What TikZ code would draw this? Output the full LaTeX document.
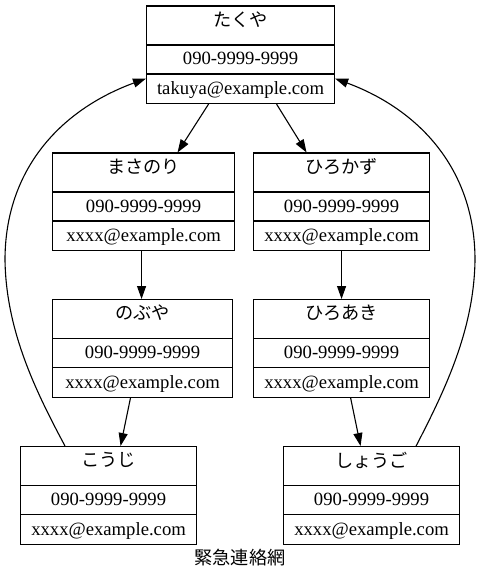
\documentclass[tikz,border=0pt]{standalone}
\usepackage{fontspec}
\setmainfont{Liberation Serif}
\newfontfamily\jpfont{Noto Sans CJK JP}
\usetikzlibrary{arrows.meta,calc}
\tikzset{
  recbox/.style={draw, line width=1.1pt, inner sep=0pt, minimum height=97.5pt},
  divline/.style={line width=1.1pt},
  titletext/.style={font=\jpfont\fontsize{18.2}{20}\selectfont, inner sep=0pt, anchor=center},
  infotext/.style={font=\fontsize{18.67}{22}\selectfont, inner sep=0pt, anchor=base},
  arr/.style={line width=1.1pt, -{Triangle[length=13pt,width=9pt]}},
  captext/.style={font=\jpfont\fontsize{18.2}{20}\selectfont, inner sep=0pt},
}
\newcommand\mkrecord[7]{% name, left, top, right, title, phone, mail
  \node[recbox, minimum width={#4-#2}, anchor=north west] (#1) at (#2,#3) {};
  \draw[divline] ([yshift=-39.5pt]#1.north west) -- ([yshift=-39.5pt]#1.north east);
  \draw[divline] ([yshift=-68.5pt]#1.north west) -- ([yshift=-68.5pt]#1.north east);
  \node[titletext] (#1-t) at ([yshift=-14pt]#1.north) {#5};
  \node[infotext] (#1-p) at ([yshift=-59.5pt]#1.north) {#6};
  \node[infotext] (#1-m) at ([yshift=-89pt]#1.north) {#7};
}
\begin{document}
\begin{tikzpicture}[x=1pt,y=-1pt]
\useasboundingbox (0,0) rectangle (481,588);
\fill[white] (0,0) rectangle (481,588);
\mkrecord{taku}{146}{5.5}{334}{たくや}{090-9999-9999}{takuya@example.com}
\mkrecord{masa}{52}{152.5}{234}{まさのり}{090-9999-9999}{xxxx@example.com}
\mkrecord{hiroka}{253}{152.5}{429}{ひろかず}{090-9999-9999}{xxxx@example.com}
\mkrecord{nobu}{52}{299}{232}{のぶや}{090-9999-9999}{xxxx@example.com}
\mkrecord{hiroaki}{253}{299}{429}{ひろあき}{090-9999-9999}{xxxx@example.com}
\mkrecord{koji}{20}{446}{196}{こうじ}{090-9999-9999}{xxxx@example.com}
\mkrecord{shogo}{283}{446}{459}{しょうご}{090-9999-9999}{xxxx@example.com}

\draw[arr] ([xshift=-32pt]taku.south) -- ([xshift=34pt]masa.north);
\draw[arr] ([xshift=36pt]taku.south) -- ([xshift=-35pt]hiroka.north);
\draw[arr] ([xshift=-2pt]masa.south) -- ([xshift=-1pt]nobu.north);
\draw[arr] (hiroka.south) -- (hiroaki.north);
\draw[arr] ([xshift=-12pt]nobu.south) -- ([xshift=12pt]koji.north);
\draw[arr] ([xshift=9pt]hiroaki.south) -- ([xshift=-11pt]shogo.north);

\draw[arr] ([xshift=45pt]koji.north west) .. controls (35,390) and (6,330) .. (5,260)
  .. controls (5,170) and (60,110) .. ([yshift=-23.75pt]taku.west);
\draw[arr] ([xshift=-44pt]shogo.north east) .. controls (445,390) and (474,330) .. (475,260)
  .. controls (475,170) and (420,110) .. ([yshift=-23.75pt]taku.east);

\node[captext] (caption) at (240,558) {緊急連絡網};
\end{tikzpicture}
\end{document}
